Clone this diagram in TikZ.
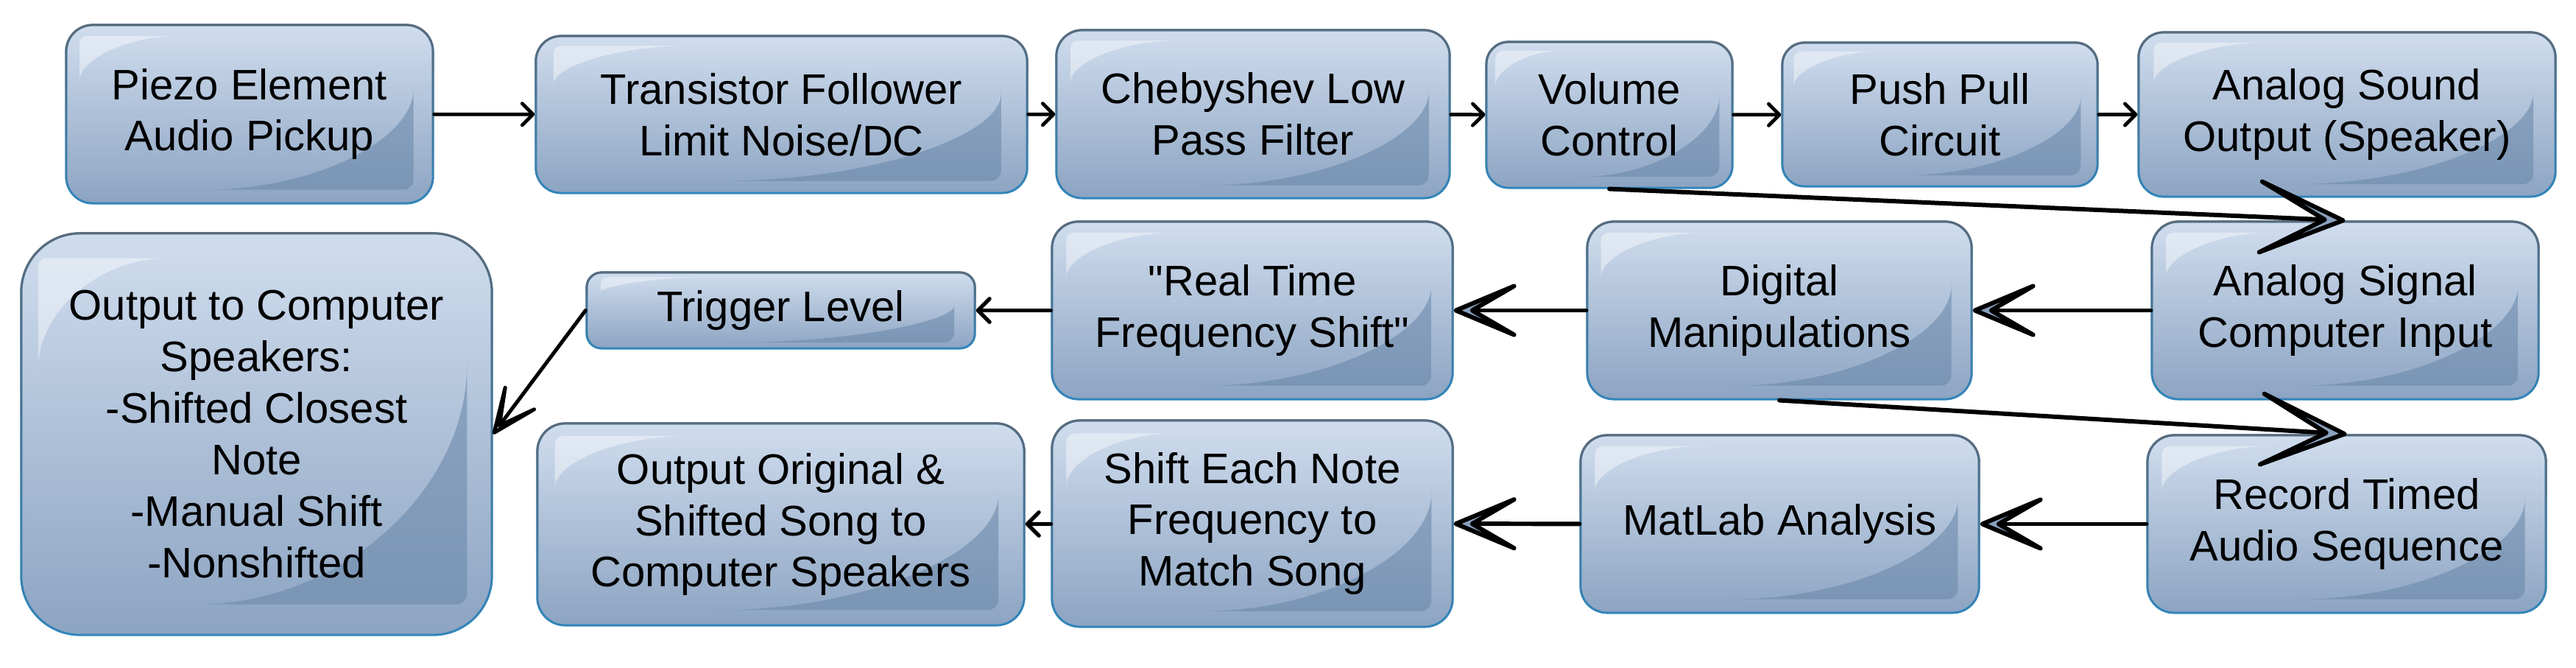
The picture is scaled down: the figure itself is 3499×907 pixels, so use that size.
\documentclass[tikz,border=0pt]{standalone}
\usepackage{fontspec}
\setmainfont{Liberation Sans}[Ligatures=TeXOff]
\usetikzlibrary{arrows.meta,fadings,calc}
\definecolor{boxtop}{RGB}{208,221,238}
\definecolor{boxbot}{RGB}{140,164,194}
\definecolor{glossA}{RGB}{146,170,199}
\definecolor{glossB}{RGB}{121,148,179}
\definecolor{bordergray}{RGB}{92,106,122}
\definecolor{borderblue}{RGB}{50,134,188}
\definecolor{chevfill}{RGB}{138,160,190}
% custom chevron tips: length, half width, notch distance behind the tip
\pgfdeclarearrow{
  name = ChevBig,
  setup code = {
    \pgfarrowssettipend{0.8pt}
    \pgfarrowssetlineend{-7.1pt}
    \pgfarrowssetbackend{-31.9pt}
    \pgfarrowshullpoint{0pt}{0pt}
    \pgfarrowshullpoint{-31.9pt}{13.65pt}
    \pgfarrowshullpoint{-31.9pt}{-13.65pt}
  },
  drawing code = {
    \pgfsetroundjoin\pgfsetroundcap
    \pgfsetfillcolor{chevfill}
    \pgfpathmoveto{\pgfqpoint{-31.9pt}{13.65pt}}
    \pgfpathlineto{\pgfqpoint{0pt}{0pt}}
    \pgfpathlineto{\pgfqpoint{-31.9pt}{-13.65pt}}
    \pgfpathlineto{\pgfqpoint{-7.1pt}{0pt}}
    \pgfpathclose
    \pgfusepathqfillstroke
  }
}
\pgfdeclarearrow{
  name = ChevMid,
  setup code = {
    \pgfarrowssettipend{0.8pt}
    \pgfarrowssetlineend{-6.3pt}
    \pgfarrowssetbackend{-22.5pt}
    \pgfarrowshullpoint{0pt}{0pt}
    \pgfarrowshullpoint{-22.5pt}{9.4pt}
    \pgfarrowshullpoint{-22.5pt}{-9.4pt}
  },
  drawing code = {
    \pgfsetroundjoin\pgfsetroundcap
    \pgfsetfillcolor{chevfill}
    \pgfpathmoveto{\pgfqpoint{-22.5pt}{9.4pt}}
    \pgfpathlineto{\pgfqpoint{0pt}{0pt}}
    \pgfpathlineto{\pgfqpoint{-22.5pt}{-9.4pt}}
    \pgfpathlineto{\pgfqpoint{-6.3pt}{0pt}}
    \pgfpathclose
    \pgfusepathqfillstroke
  }
}
\pgfdeclarearrow{
  name = ChevSmall,
  setup code = {
    \pgfarrowssettipend{0.7pt}
    \pgfarrowssetlineend{-3.4pt}
    \pgfarrowssetbackend{-16.5pt}
    \pgfarrowshullpoint{0pt}{0pt}
    \pgfarrowshullpoint{-16.5pt}{7pt}
    \pgfarrowshullpoint{-16.5pt}{-7pt}
  },
  drawing code = {
    \pgfsetroundjoin\pgfsetroundcap
    \pgfsetfillcolor{chevfill}
    \pgfpathmoveto{\pgfqpoint{-16.5pt}{7pt}}
    \pgfpathlineto{\pgfqpoint{0pt}{0pt}}
    \pgfpathlineto{\pgfqpoint{-16.5pt}{-7pt}}
    \pgfpathlineto{\pgfqpoint{-3.4pt}{0pt}}
    \pgfpathclose
    \pgfusepathqfillstroke
  }
}
\newcommand\boxfont{\fontsize{16.5}{19.9}\selectfont}
\newcommand\boxgloss{%
 \shade[sharp corners, top color=glossA, bottom color=glossB, rounded corners=4pt]
  let \p1=(path picture bounding box.south west), \p2=(path picture bounding box.north east), \n1={\x2-\x1}, \n2={\y2-\y1} in
  ({\x2-0.053*\n1}, {\y2-0.30*\n2}) .. controls ({\x2-0.053*\n1}, {\y2-0.64*\n2}) and ({\x1+0.68*\n1}, {\y1+0.076*\n2}) .. ({\x1+0.35*\n1}, {\y1+0.076*\n2}) -- ({\x2-0.053*\n1}, {\y1+0.076*\n2}) -- cycle;
 \fill[sharp corners, white, fill opacity=0.42, rounded corners=3pt]
  let \p1=(path picture bounding box.south west), \p2=(path picture bounding box.north east), \n1={\x2-\x1}, \n2={\y2-\y1} in
  ({\x1+0.036*\n1}, {\y2-0.356*\n2}) -- ({\x1+0.036*\n1}, {\y2-0.062*\n2}) -- ({\x1+0.327*\n1}, {\y2-0.062*\n2}) .. controls ({\x1+0.167*\n1}, {\y2-0.062*\n2}) and ({\x1+0.036*\n1}, {\y2-0.194*\n2}) .. cycle;
}
\tikzset{
 box/.style={draw=borderblue, line width=0.85pt, top color=boxtop, bottom color=boxbot,
   align=center, inner sep=0pt, font=\boxfont, text=black, path picture={\boxgloss},
   postaction={draw=bordergray, line width=0.85pt, path fading=south}},
 sz/.style n args={3}{minimum width=#1cm, minimum height=#2cm, rounded corners=#3cm},
 arrowA/.style={line width=1.34pt, line cap=round, -{Straight Barb[round]}},
 arrowB/.style={line width=1.5pt, line cap=round, -{Straight Barb[round]}},
 chevA/.style={line width=1.7pt, line cap=round, -ChevMid},
 chevB/.style={line width=1.7pt, line cap=round, -ChevBig},
 chevC/.style={line width=1.42pt, line cap=round, -ChevSmall},
}
\begin{document}
\begin{tikzpicture}[x=0.01cm, y=-0.01cm]
\useasboundingbox (0,0) rectangle (3499,907);
% row 1
\node[box, sz={4.98}{2.42}{0.36}] (piezo) at (339,155) {Piezo Element\\Audio Pickup};
\node[box, sz={6.67}{2.13}{0.34}] (trans) at (1061.5,155.5) {Transistor Follower\\Limit Noise/DC};
\node[box, sz={5.34}{2.28}{0.35}] (cheb) at (1702,155) {Chebyshev Low\\Pass Filter};
\node[box, sz={3.34}{1.98}{0.30}] (volume) at (2186,156) {Volume\\Control};
\node[box, sz={4.28}{1.95}{0.30}] (push) at (2635,155.5) {Push Pull\\Circuit};
\node[box, sz={5.66}{2.23}{0.34}] (aout) at (3188,155.5) {Analog Sound\\Output (Speaker)};
% row 2
\node[box, sz={6.39}{5.45}{0.80}] (big) at (348.5,589.5) {Output to Computer\\Speakers:\\-Shifted Closest\\Note\\-Manual Shift\\-Nonshifted};
\node[box, sz={5.27}{1.03}{0.20}] (trigger) at (1060.5,421.5) {Trigger Level};
\node[box, sz={5.44}{2.41}{0.36}] (realtime) at (1701,421.5) {"Real Time\\Frequency Shift"};
\node[box, sz={5.22}{2.41}{0.36}] (digital) at (2417,421.5) {Digital\\Manipulations};
\node[box, sz={5.25}{2.41}{0.36}] (ain) at (3185.5,421.5) {Analog Signal\\Computer Input};
% row 3
\node[box, sz={6.61}{2.74}{0.38}] (outorig) at (1060.5,712) {Output Original \&\\Shifted Song to\\Computer Speakers};
\node[box, sz={5.44}{2.80}{0.38}] (shiftnote) at (1701,711) {Shift Each Note\\Frequency to\\Match Song};
\node[box, sz={5.41}{2.41}{0.36}] (matlab) at (2417.5,711.5) {MatLab Analysis};
\node[box, sz={5.41}{2.41}{0.36}] (record) at (3187.5,711.5) {Record Timed\\Audio Sequence};
% connectors
\draw[arrowA] (piezo) -- (trans);
\draw[arrowA] (trans) -- (cheb);
\draw[arrowA] (cheb) -- (volume);
\draw[arrowA] (volume) -- (push);
\draw[arrowA] (push) -- (aout);
\draw[chevB] (volume.south) -- (ain.north);
\draw[chevA] (ain) -- (digital);
\draw[chevA] (digital) -- (realtime);
\draw[arrowB] (realtime) -- (trigger);
\draw[chevC] (trigger.west) -- (big.east);
\draw[chevB] (digital.south) -- (record.north);
\draw[chevA] (record) -- (matlab);
\draw[chevA] (matlab) -- (shiftnote);
\draw[arrowB] (shiftnote) -- (outorig);
\end{tikzpicture}
\end{document}
